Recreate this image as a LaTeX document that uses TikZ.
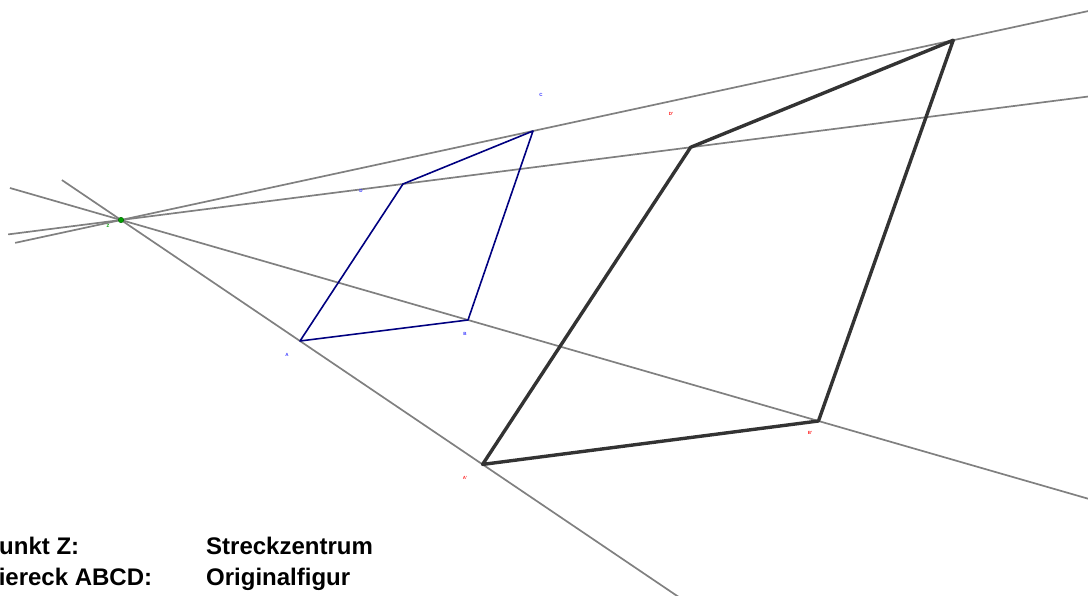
\documentclass[tikz,border=0pt]{standalone}
\usepackage{fontspec}
\setmainfont{Liberation Sans}
\usetikzlibrary{calc}
\usepackage{xcolor}
\definecolor{rayline}{HTML}{808080}
\definecolor{origblue}{HTML}{000080}
\definecolor{imagedark}{HTML}{333333}
\definecolor{centergreen}{HTML}{00A000}
\definecolor{origlabel}{HTML}{3333FF}
\definecolor{imagelabel}{HTML}{FF2020}
\tikzset{
  ray/.style={draw=rayline, line width=1.7pt},
  orig/.style={draw=origblue, line width=1.6pt, line join=round},
  imagefig/.style={draw=imagedark, line width=3.4pt, line join=round},
  ptlabel/.style={font=\fontsize{4.5}{5}\selectfont\bfseries, inner sep=0pt},
  centerdot/.style={circle, fill=centergreen, draw=centergreen!60!black,
                    line width=0.4pt, minimum size=5.5pt, inner sep=0pt},
  legtext/.style={font=\fontsize{24}{28}\selectfont\bfseries,
                  anchor=base west, inner sep=0pt},
}

\begin{document}
\begin{tikzpicture}[x=1pt, y=-1pt]

\useasboundingbox (0,0) rectangle (1088,596);
\clip (0,0) rectangle (1088,596);

%% ====================  POINTS  ====================

\coordinate (Z) at (121,220);
\coordinate (A) at (300,341);
\coordinate (B) at (468,320);
\coordinate (C) at (533,131);
\coordinate (D) at (403,184);

\coordinate (A2) at ($(Z)!2.02!(A)$);
\coordinate (B2) at ($(Z)!2.01!(B)$);
\coordinate (C2) at ($(Z)!2.02!(C)$);
\coordinate (D2) at ($(Z)!2.02!(D)$);

%% ====================  RAYS THROUGH Z  ====================

\draw[ray] ($(Z)!-0.33!(A)$) -- ($(Z)!3.2!(A)$);
\draw[ray] ($(Z)!-0.32!(B)$) -- ($(Z)!2.85!(B)$);
\draw[ray] ($(Z)!-0.257!(C)$) -- ($(Z)!2.4!(C)$);
\draw[ray] ($(Z)!-0.40!(D)$) -- ($(Z)!3.5!(D)$);

%% ====================  FIGURES  ====================

\draw[orig] (A) -- (B) -- (C) -- (D) -- cycle;
\draw[imagefig] (A2) -- (B2) -- (C2) -- (D2) -- cycle;

\node[centerdot] (z_dot) at (Z) {};

%% ====================  LABELS  ====================

\node[ptlabel, text=centergreen] (lab_z) at (108,226) {Z};
\node[ptlabel, text=origlabel] (lab_a) at (287,355) {A};
\node[ptlabel, text=origlabel] (lab_b) at (465,334) {B};
\node[ptlabel, text=origlabel] (lab_c) at (541,95) {C};
\node[ptlabel, text=origlabel] (lab_d) at (361,191) {D};
\node[ptlabel, text=imagelabel] (lab_a2) at (465,478) {A'};
\node[ptlabel, text=imagelabel] (lab_b2) at (810,433) {B'};
\node[ptlabel, text=imagelabel] (lab_d2) at (671,114) {D'};

%% ====================  LEGEND  ====================

\node[legtext] (leg_z) at (-17,554) {Punkt Z:};
\node[legtext] (leg_z_val) at (206,554) {Streckzentrum};
\node[legtext] (leg_abcd) at (-17,585) {Viereck ABCD:};
\node[legtext] (leg_abcd_val) at (206,585) {Originalfigur};

\end{tikzpicture}
\end{document}
